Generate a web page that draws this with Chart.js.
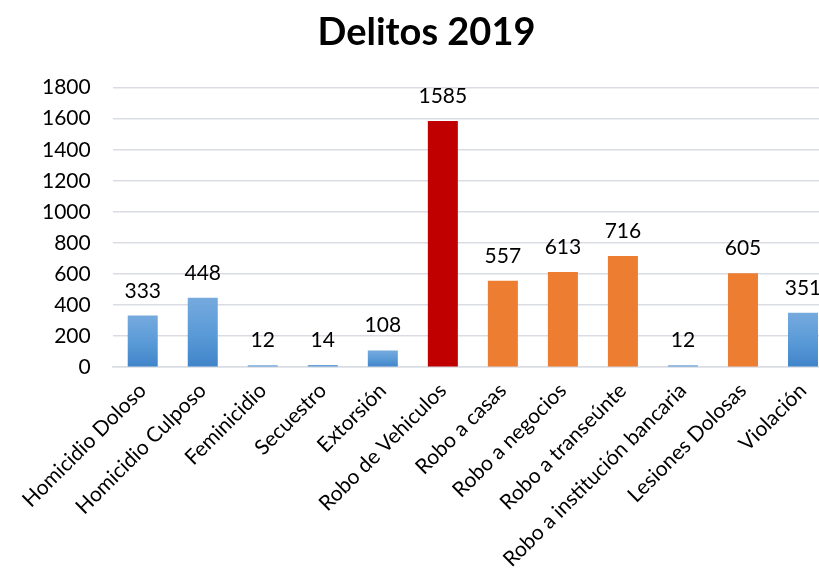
<!DOCTYPE html>
<html>
<head>
<meta charset="utf-8">
<script src="https://cdn.jsdelivr.net/npm/chart.js@4"></script>
<style>
  html, body { margin: 0; padding: 0; background: #fff; overflow: hidden; }
  #wrap { width: 819px; height: 583px; overflow: hidden; }
</style>
</head>
<body>
<div id="wrap"><canvas id="chart-delitos" width="860" height="583"></canvas></div>
<script>
// datos
const categories = ["Homicidio Doloso", "Homicidio Culposo", "Feminicidio", "Secuestro", "Extorsión",
    "Robo de Vehiculos", "Robo a casas", "Robo a negocios", "Robo a transeúnte",
    "Robo a institución bancaria", "Lesiones Dolosas", "Violación"];
const values = [333, 448, 12, 14, 108, 1585, 557, 613, 716, 12, 605, 351];
const colorGroups = ["blue", "blue", "blue", "blue", "blue", "red", "orange", "orange", "orange", "blue", "orange", "blue"];
const yTicks = [0, 200, 400, 600, 800, 1000, 1200, 1400, 1600, 1800];

const FONT = "Lato, 'Open Sans', sans-serif";

// color de cada barra (azul con degradado por barra)
function barColor(ctx) {
    const group = colorGroups[ctx.dataIndex];
    if (group === "red") return "#C00000";
    if (group === "orange") return "#ED7D31";
    const chart = ctx.chart;
    const y = chart.scales.y;
    if (!chart.chartArea || !y || ctx.parsed === undefined) return "#5B9BD5";
    const top = y.getPixelForValue(ctx.parsed.y);
    const base = y.getPixelForValue(0);
    if (!isFinite(top) || !isFinite(base) || base - top < 1) return "#5B9BD5";
    const g = chart.ctx.createLinearGradient(0, top, 0, base);
    g.addColorStop(0, "#76AADE");
    g.addColorStop(0.5, "#5B9BD8");
    g.addColorStop(1, "#4084C9");
    return g;
}

// etiquetas de valor encima de cada barra
const valueLabels = {
    id: "valueLabels",
    afterDatasetsDraw(chart) {
        const ctx = chart.ctx;
        const meta = chart.getDatasetMeta(0);
        ctx.save();
        ctx.font = "21px " + FONT;
        ctx.fillStyle = "#000";
        ctx.textAlign = "center";
        ctx.textBaseline = "alphabetic";
        meta.data.forEach((bar, i) => {
            ctx.fillText(String(values[i]), bar.x, bar.y - 18);
        });
        ctx.restore();
    }
};

const chartData = {
    labels: categories,
    datasets: [{
        data: values,
        backgroundColor: barColor,
        borderWidth: 0,
        barPercentage: 0.5,
        categoryPercentage: 1.0
    }]
};

const config = {
    type: "bar",
    data: chartData,
    plugins: [valueLabels],
    options: {
        responsive: false,
        animation: false,
        layout: {
            padding: { left: 20, right: 27, top: 10, bottom: 0 }
        },
        scales: {
            x: {
                grid: { display: false, drawTicks: false },
                border: { display: true, color: "#D9DDE3", width: 1.5 },
                ticks: {
                    autoSkip: false,
                    maxRotation: 45,
                    minRotation: 45,
                    padding: 11,
                    color: "#000",
                    font: { family: FONT, size: 21 }
                }
            },
            y: {
                min: 0,
                max: 1800,
                afterBuildTicks: scale => {
                    scale.ticks = yTicks.map(v => ({ value: v }));
                },
                grid: { color: "#D9DDE3", lineWidth: 1.5, drawTicks: false },
                border: { display: false },
                ticks: {
                    padding: 22,
                    color: "#000",
                    font: { family: FONT, size: 21 },
                    callback: value => String(value)
                }
            }
        },
        plugins: {
            legend: { display: false },
            tooltip: { enabled: false },
            title: {
                display: true,
                text: "Delitos 2019",
                color: "#000",
                font: { family: FONT, size: 38, weight: "bold" },
                padding: { top: 0, bottom: 32 }
            }
        }
    }
};

const delitosChart = new Chart(document.getElementById("chart-delitos"), config);
</script>
</body>
</html>
